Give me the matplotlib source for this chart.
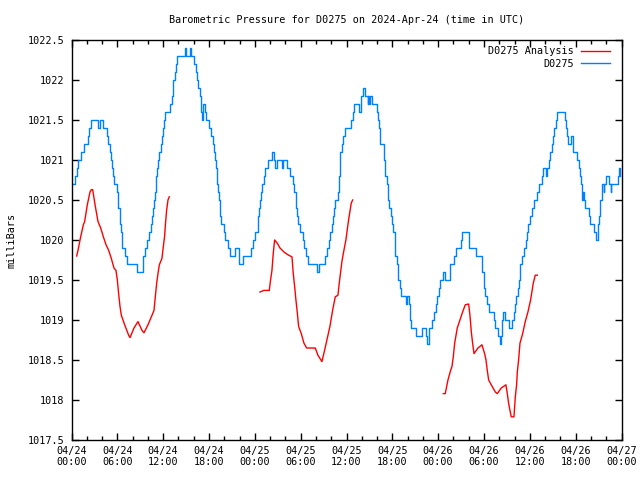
import numpy as np
import matplotlib
matplotlib.use("Agg")
import matplotlib.pyplot as plt
from matplotlib.ticker import MultipleLocator, FuncFormatter

# hours since 2024-04-24 00:00 UTC, pressure in mb
blue_hours = [
    0.0, 0.5, 0.75, 0.85, 1.2, 1.6, 2.1, 2.25, 2.5, 3.45, 3.7, 4.1, 4.7, 4.8,
    5.0, 5.2, 5.35, 5.45, 5.6, 5.95, 6.05, 6.15, 6.3, 6.35, 6.45, 6.55, 6.65,
    7.0, 7.25, 8.55, 9.3, 9.4, 9.6, 9.9, 10.2, 10.35, 10.55, 10.7, 10.85,
    10.95, 11.0, 11.05, 11.15, 11.3, 11.5, 11.7, 11.8, 11.95, 12.1, 12.25,
    12.9, 13.1, 13.25, 13.35, 13.5, 13.65, 13.8, 14.85, 15.05, 15.45, 15.7,
    16.05, 16.25, 16.45, 16.6, 16.8, 16.95, 17.05, 17.25, 17.45, 17.65, 17.95,
    18.2, 18.5, 18.7, 18.8, 18.9, 19.0, 19.05, 19.2, 19.3, 19.4, 19.45, 19.55,
    19.95, 20.15, 20.45, 20.7, 21.4, 21.9, 22.45, 23.5, 23.75, 24.0, 24.35,
    24.45, 24.55, 24.65, 24.8, 24.95, 25.15, 25.35, 25.7, 26.25, 26.45, 26.65,
    26.9, 27.5, 27.75, 28.2, 28.65, 28.95, 29.15, 29.35, 29.45, 29.55, 29.7,
    29.85, 30.25, 30.45, 30.65, 30.95, 32.2, 32.35, 33.15, 33.45, 33.7, 33.85,
    34.05, 34.2, 34.35, 34.55, 34.9, 35.0, 35.1, 35.2, 35.4, 35.6, 35.8,
    36.65, 36.85, 37.0, 37.7, 37.9, 38.2, 38.4, 38.75, 38.85, 38.95, 39.1,
    39.3, 40.0, 40.1, 40.2, 40.35, 40.85, 40.95, 41.1, 41.25, 41.4, 41.6,
    41.8, 41.95, 42.15, 42.3, 42.4, 42.6, 42.75, 42.95, 43.1, 43.75, 43.9,
    44.15, 44.3, 44.5, 45.05, 45.85, 46.35, 46.6, 46.75, 47.25, 47.4, 47.7,
    47.9, 48.1, 48.3, 48.6, 48.95, 49.55, 50.1, 50.3, 51.0, 51.15, 52.0,
    53.0, 53.75, 53.95, 54.15, 54.45, 54.65, 55.3, 55.5, 55.85, 56.05, 56.2,
    56.35, 56.55, 56.75, 57.25, 57.7, 57.9, 58.05, 58.2, 58.4, 58.6, 58.75,
    58.95, 59.3, 59.45, 59.65, 59.8, 60.0, 60.3, 60.5, 61.0, 61.2, 61.55,
    61.75, 62.1, 62.25, 62.45, 62.6, 62.9, 63.05, 63.2, 63.4, 63.6, 64.6,
    64.75, 64.9, 65.05, 65.4, 65.6, 66.2, 66.4, 66.55, 66.7, 66.8, 66.95,
    67.1, 67.25, 67.75, 67.85, 68.4, 68.6, 68.9, 69.05, 69.2, 69.4, 69.7,
    69.75, 69.95, 70.4, 70.6, 70.65, 71.5, 71.7, 71.85,
]
blue_mb = [
    1020.7, 1020.8, 1020.9, 1021.0, 1021.1, 1021.2, 1021.3, 1021.4, 1021.5,
    1021.4, 1021.5, 1021.4, 1021.3, 1021.2, 1021.1, 1021.0, 1020.9, 1020.8,
    1020.7, 1020.6, 1020.5, 1020.4, 1020.3, 1020.2, 1020.1, 1020.0, 1019.9,
    1019.8, 1019.7, 1019.6, 1019.7, 1019.8, 1019.9, 1020.0, 1020.1, 1020.2,
    1020.3, 1020.4, 1020.5, 1020.6, 1020.7, 1020.8, 1020.9, 1021.0, 1021.1,
    1021.2, 1021.3, 1021.4, 1021.5, 1021.6, 1021.7, 1021.8, 1021.9, 1022.0,
    1022.1, 1022.2, 1022.3, 1022.4, 1022.3, 1022.4, 1022.3, 1022.2, 1022.1,
    1022.0, 1021.9, 1021.8, 1021.6, 1021.5, 1021.7, 1021.6, 1021.5, 1021.4,
    1021.3, 1021.2, 1021.1, 1021.0, 1020.9, 1020.8, 1020.7, 1020.6, 1020.5,
    1020.4, 1020.3, 1020.2, 1020.1, 1020.0, 1019.9, 1019.8, 1019.9, 1019.7,
    1019.8, 1019.9, 1020.0, 1020.1, 1020.2, 1020.3, 1020.4, 1020.5, 1020.6,
    1020.7, 1020.8, 1020.9, 1021.0, 1021.1, 1021.0, 1020.9, 1021.0, 1020.9,
    1021.0, 1020.9, 1020.8, 1020.7, 1020.6, 1020.5, 1020.4, 1020.3, 1020.2,
    1020.1, 1020.0, 1019.9, 1019.8, 1019.7, 1019.6, 1019.7, 1019.8, 1019.9,
    1020.0, 1020.1, 1020.2, 1020.3, 1020.4, 1020.5, 1020.6, 1020.8, 1020.9,
    1021.1, 1021.2, 1021.3, 1021.4, 1021.5, 1021.6, 1021.7, 1021.6, 1021.8,
    1021.9, 1021.8, 1021.7, 1021.8, 1021.7, 1021.8, 1021.7, 1021.6, 1021.5,
    1021.4, 1021.2, 1021.1, 1021.0, 1020.8, 1020.7, 1020.5, 1020.4, 1020.3,
    1020.2, 1020.1, 1020.0, 1019.8, 1019.7, 1019.5, 1019.4, 1019.3, 1019.2,
    1019.3, 1019.2, 1019.0, 1018.9, 1018.8, 1018.9, 1018.8, 1018.7, 1018.9,
    1019.0, 1019.1, 1019.2, 1019.3, 1019.4, 1019.5, 1019.6, 1019.5, 1019.7,
    1019.8, 1019.9, 1020.0, 1020.1, 1019.9, 1019.8, 1019.6, 1019.4, 1019.3,
    1019.2, 1019.1, 1019.0, 1018.9, 1018.8, 1018.7, 1018.8, 1019.0, 1019.1,
    1019.0, 1018.9, 1019.0, 1019.1, 1019.2, 1019.3, 1019.4, 1019.5, 1019.7,
    1019.8, 1019.9, 1020.0, 1020.1, 1020.2, 1020.3, 1020.4, 1020.5, 1020.6,
    1020.7, 1020.8, 1020.9, 1020.8, 1020.9, 1021.0, 1021.1, 1021.2, 1021.3,
    1021.4, 1021.5, 1021.6, 1021.5, 1021.4, 1021.3, 1021.2, 1021.3, 1021.1,
    1021.0, 1020.9, 1020.8, 1020.7, 1020.5, 1020.6, 1020.5, 1020.4, 1020.3,
    1020.2, 1020.1, 1020.0, 1020.2, 1020.3, 1020.5, 1020.7, 1020.6, 1020.7,
    1020.8, 1020.7, 1020.6, 1020.7, 1020.8, 1020.9, 1020.8,
]

# analysis series, three runs separated by gaps
red1_hours = [0.68, 0.85, 1.2, 1.55, 1.72, 2.07, 2.42, 2.6, 2.77, 3.12, 3.47,
              3.82, 4.17, 4.52, 4.87, 5.21, 5.56, 5.82, 6.0, 6.17, 6.35, 6.52,
              6.96, 7.48, 7.66, 8.18, 8.7, 9.23, 9.49, 10.01, 10.54, 10.8,
              10.97, 11.15, 11.32, 11.5, 11.84, 12.0, 12.19, 12.3, 12.45,
              12.63, 12.8]
red1_mb = [1019.8, 1019.87, 1020.04, 1020.19, 1020.23, 1020.44, 1020.6,
           1020.63, 1020.63, 1020.42, 1020.23, 1020.15, 1020.04, 1019.94,
           1019.87, 1019.77, 1019.65, 1019.62, 1019.5, 1019.33, 1019.17,
           1019.06, 1018.94, 1018.81, 1018.78, 1018.9, 1018.98, 1018.87,
           1018.84, 1018.94, 1019.06, 1019.12, 1019.29, 1019.46, 1019.58,
           1019.69, 1019.77, 1019.9, 1020.05, 1020.2, 1020.37, 1020.5,
           1020.54]
red2_hours = [24.67, 25.19, 25.89, 26.06, 26.24, 26.41, 26.59, 26.94, 27.29,
              27.81, 28.42, 28.86, 29.03, 29.21, 29.38, 29.55, 29.73, 30.08,
              30.43, 30.78, 31.91, 32.26, 32.78, 33.13, 33.48, 33.83, 34.18,
              34.53, 34.88, 35.05, 35.23, 35.4, 35.58, 35.92, 36.27, 36.62,
              36.8]
red2_mb = [1019.35, 1019.37, 1019.37, 1019.5, 1019.62, 1019.83, 1020.0,
           1019.96, 1019.9, 1019.85, 1019.81, 1019.79, 1019.58, 1019.42,
           1019.25, 1019.1, 1018.92, 1018.83, 1018.71, 1018.65, 1018.65,
           1018.56, 1018.48, 1018.62, 1018.77, 1018.92, 1019.12, 1019.29,
           1019.31, 1019.46, 1019.6, 1019.73, 1019.83, 1020.0, 1020.25,
           1020.46, 1020.5]
red3_hours = [48.67, 48.93, 49.28, 49.63, 49.81, 49.98, 50.16, 50.5, 50.85,
              51.2, 51.55, 51.99, 52.16, 52.34, 52.51, 52.69, 53.21, 53.73,
              54.08, 54.26, 54.43, 54.61, 54.95, 55.48, 55.74, 56.26, 56.87,
              57.05, 57.22, 57.4, 57.57, 57.92, 58.1, 58.27, 58.36, 58.53,
              58.71, 59.06, 59.4, 59.75, 60.1, 60.45, 60.71, 60.98]
red3_mb = [1018.08, 1018.08, 1018.25, 1018.37, 1018.42, 1018.54, 1018.71,
           1018.9, 1019.0, 1019.1, 1019.19, 1019.2, 1019.06, 1018.85,
           1018.71, 1018.58, 1018.65, 1018.69, 1018.58, 1018.5, 1018.37,
           1018.25, 1018.19, 1018.1, 1018.08, 1018.15, 1018.19, 1018.08,
           1017.96, 1017.87, 1017.79, 1017.79, 1018.04, 1018.19, 1018.35,
           1018.5, 1018.71, 1018.83, 1018.98, 1019.1, 1019.25, 1019.46,
           1019.56, 1019.56]

xtick_hours = list(range(0, 73, 6))
xtick_labels = ["04/24\n00:00", "04/24\n06:00", "04/24\n12:00", "04/24\n18:00",
                "04/25\n00:00", "04/25\n06:00", "04/25\n12:00", "04/25\n18:00",
                "04/26\n00:00", "04/26\n06:00", "04/26\n12:00", "04/26\n18:00",
                "04/27\n00:00"]

RED = "#ff0000"
BLUE = "#0080ff"
FS = 7.3

plt.rcParams["font.family"] = ["DejaVu Sans Mono"]
plt.rcParams["font.size"] = FS

fig = plt.figure(figsize=(6.4, 4.8), dpi=100)
ax = fig.add_axes([71.5 / 640, 1 - 440 / 480, 550 / 640, 400 / 480])

ax.plot(red1_hours, red1_mb, color=RED, lw=1.0, label="D0275 Analysis")
ax.plot(red2_hours, red2_mb, color=RED, lw=1.0)
ax.plot(red3_hours, red3_mb, color=RED, lw=1.0)
ax.plot(blue_hours, blue_mb, color=BLUE, lw=1.0, drawstyle="steps-post",
        label="D0275")

ax.set_xlim(0, 72)
ax.set_ylim(1017.5, 1022.5)
ax.set_xticks(xtick_hours)
ax.set_xticklabels(xtick_labels)
ax.xaxis.set_minor_locator(MultipleLocator(2))
ax.yaxis.set_major_locator(MultipleLocator(0.5))
ax.yaxis.set_major_formatter(FuncFormatter(lambda v, p: f"{v:g}"))

ax.tick_params(which="both", direction="in", top=True, right=True,
               width=1.0, labelsize=FS, pad=5)
ax.tick_params(which="major", length=5)
ax.tick_params(which="minor", length=3)
ax.tick_params(axis="x", pad=4)
for s in ax.spines.values():
    s.set_linewidth(1.0)

ax.set_ylabel("milliBars", fontsize=FS, labelpad=8)
ax.set_title("Barometric Pressure for D0275 on 2024-Apr-24 (time in UTC)",
             fontsize=FS, pad=12)

ax.legend(loc="upper right", bbox_to_anchor=(0.991, 1.0), frameon=False,
          markerfirst=False, fontsize=FS, handlelength=2.9,
          handletextpad=0.7, labelspacing=0.25, borderaxespad=0.2)

fig.savefig("out.png", dpi=100)
